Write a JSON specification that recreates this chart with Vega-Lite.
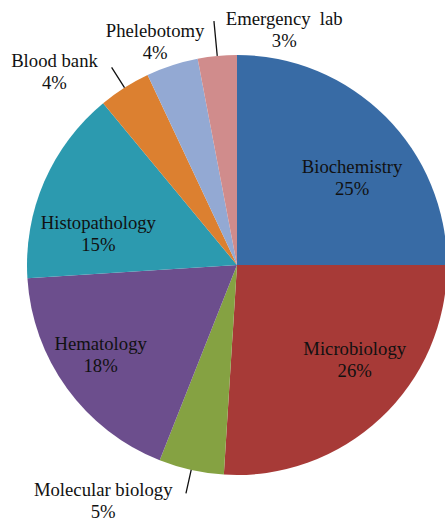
{
  "$schema": "https://vega.github.io/schema/vega-lite/v6.json",
  "width": 416,
  "height": 514,
  "autosize": {"type": "none"},
  "padding": {"left": 29, "top": 8, "right": 0, "bottom": 0},
  "background": "white",
  "config": {"view": {"stroke": null}},
  "data": {
    "values": [
      {"category": "Biochemistry", "value": 25},
      {"category": "Microbiology", "value": 26},
      {"category": "Molecular biology", "value": 5},
      {"category": "Hematology", "value": 18},
      {"category": "Histopathology", "value": 15},
      {"category": "Blood bank", "value": 4},
      {"category": "Phelebotomy", "value": 4},
      {"category": "Emergency\u00a0 lab", "value": 3}
    ]
  },
  "transform": [
    {"stack": "value", "groupby": [], "as": ["start", "end"]},
    {"calculate": "(datum.start + datum.end) / 2", "as": "mid"},
    {"calculate": "datum.category + '|' + datum.value + '%'", "as": "label"}
  ],
  "resolve": {"scale": {"theta": "shared"}},
  "layer": [
    {
      "mark": {"type": "arc", "radius": 210, "stroke": null},
      "encoding": {
        "theta": {"field": "start", "type": "quantitative", "scale": {"domain": [0, 100], "range": [0, 6.283185307]}, "stack": null},
        "theta2": {"field": "end"},
        "color": {
          "field": "category", "type": "nominal", "legend": null,
          "scale": {
            "domain": ["Biochemistry", "Microbiology", "Molecular biology", "Hematology", "Histopathology", "Blood bank", "Phelebotomy", "Emergency\u00a0 lab"],
            "range": ["#386BA5", "#A73A37", "#85A242", "#6C4E8D", "#2C9AAF", "#DC8030", "#93A9D3", "#D08C8C"]
          }
        }
      }
    },
    {
      "transform": [{"filter": "datum.category == 'Blood bank' || datum.category == 'Molecular biology'"}],
      "mark": {"type": "arc", "radius": 234, "radius2": 210, "stroke": "#111111", "strokeWidth": 1.3, "fill": null},
      "encoding": {
        "theta": {"field": "mid", "type": "quantitative", "stack": null},
        "theta2": {"field": "mid"}
      }
    },
    {
      "transform": [{"filter": "datum.category == 'Emergency\u00a0 lab'"}],
      "mark": {"type": "arc", "radius": 245, "radius2": 210, "stroke": "#111111", "strokeWidth": 1.3, "fill": null},
      "encoding": {
        "theta": {"field": "mid", "type": "quantitative", "stack": null},
        "theta2": {"field": "mid"}
      }
    },
    {
      "transform": [{"filter": "datum.category == 'Biochemistry'"}],
      "mark": {"type": "text", "radius": 150, "dx": 9, "dy": 8, "font": "Liberation Serif", "fontSize": 18.7, "lineBreak": "|", "lineHeight": 22, "align": "center", "baseline": "middle", "color": "#111111"},
      "encoding": {"theta": {"field": "mid", "type": "quantitative", "stack": null}, "text": {"field": "label"}}
    },
    {
      "transform": [{"filter": "datum.category == 'Microbiology'"}],
      "mark": {"type": "text", "radius": 150, "dx": 15, "dy": -25, "font": "Liberation Serif", "fontSize": 18.7, "lineBreak": "|", "lineHeight": 22, "align": "center", "baseline": "middle", "color": "#111111"},
      "encoding": {"theta": {"field": "mid", "type": "quantitative", "stack": null}, "text": {"field": "label"}}
    },
    {
      "transform": [{"filter": "datum.category == 'Hematology'"}],
      "mark": {"type": "text", "radius": 150, "dx": -15, "dy": -9, "font": "Liberation Serif", "fontSize": 18.7, "lineBreak": "|", "lineHeight": 22, "align": "center", "baseline": "middle", "color": "#111111"},
      "encoding": {"theta": {"field": "mid", "type": "quantitative", "stack": null}, "text": {"field": "label"}}
    },
    {
      "transform": [{"filter": "datum.category == 'Histopathology'"}],
      "mark": {"type": "text", "radius": 150, "dx": -1, "dy": 18, "font": "Liberation Serif", "fontSize": 18.7, "lineBreak": "|", "lineHeight": 22, "align": "center", "baseline": "middle", "color": "#111111"},
      "encoding": {"theta": {"field": "mid", "type": "quantitative", "stack": null}, "text": {"field": "label"}}
    },
    {
      "transform": [{"filter": "datum.category == 'Molecular biology'"}],
      "mark": {"type": "text", "radius": 210, "dx": -88, "dy": 20, "font": "Liberation Serif", "fontSize": 18.7, "lineBreak": "|", "lineHeight": 22, "align": "center", "baseline": "middle", "color": "#111111"},
      "encoding": {"theta": {"field": "mid", "type": "quantitative", "stack": null}, "text": {"field": "label"}}
    },
    {
      "transform": [{"filter": "datum.category == 'Blood bank'"}],
      "mark": {"type": "text", "radius": 210, "dx": -70, "dy": -27, "font": "Liberation Serif", "fontSize": 18.7, "lineBreak": "|", "lineHeight": 22, "align": "center", "baseline": "middle", "color": "#111111"},
      "encoding": {"theta": {"field": "mid", "type": "quantitative", "stack": null}, "text": {"field": "label"}}
    },
    {
      "transform": [{"filter": "datum.category == 'Phelebotomy'"}],
      "mark": {"type": "text", "radius": 210, "dx": -17, "dy": -34, "font": "Liberation Serif", "fontSize": 18.7, "lineBreak": "|", "lineHeight": 22, "align": "center", "baseline": "middle", "color": "#111111"},
      "encoding": {"theta": {"field": "mid", "type": "quantitative", "stack": null}, "text": {"field": "label"}}
    },
    {
      "transform": [{"filter": "datum.category == 'Emergency\u00a0 lab'"}],
      "mark": {"type": "text", "radius": 210, "dx": 67, "dy": -37, "font": "Liberation Serif", "fontSize": 18.7, "lineBreak": "|", "lineHeight": 22, "align": "center", "baseline": "middle", "color": "#111111"},
      "encoding": {"theta": {"field": "mid", "type": "quantitative", "stack": null}, "text": {"field": "label"}}
    }
  ]
}
